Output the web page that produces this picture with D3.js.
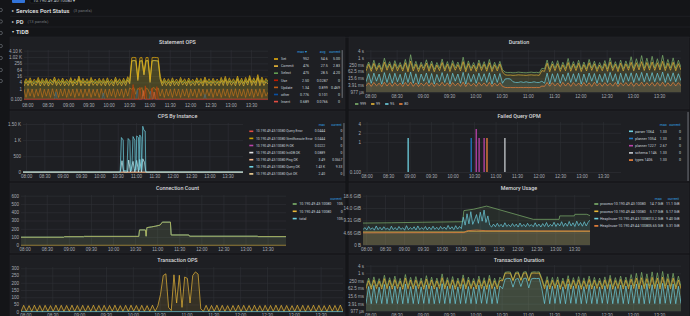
<!DOCTYPE html>
<html>
<head>
<meta charset="utf-8">
<script src="https://cdn.jsdelivr.net/npm/d3@7"></script>
<style>
  html, body { margin: 0; padding: 0; background: #141518; overflow: hidden; }
  svg { display: block; font-family: Roboto, "Noto Sans", sans-serif; }
  .grid line { stroke: #2f3135; stroke-width: 0.6; }
  .grid .domain { display: none; }
  .axis text { fill: #a9adb3; font-size: 4.5px; }
  .axis .domain { display: none; }
</style>
</head>
<body>
<script>
// ---------------- data ----------------
const domainStart = "07:55";
const domainEnd = "13:55";
const stepMinutes = 3; // dense series are sampled every 3 minutes from domainStart
const xTickLabels = ["08:00","08:30","09:00","09:30","10:00","10:30","11:00","11:30","12:00","12:30","13:00","13:30"];

const rowTitles = ["Services Port Status", "PD", "TiDB"];
const rowNotes = ["(3 panels)", "(13 panels)", ""];

// Statement OPS
const stmtTicks = [0.1, 1, 4, 16, 64, 256, 1024, 4096];
const stmtTickLabels = ["0.100", "1", "4", "16", "64", "256", "1.02 K", "4.10 K"];
const stmtNames = ["Set", "Commit", "Select", "Use", "Update", "other", "Insert"];
const stmtMax = ["952", "476", "475", "2.50", "1.34", "0.776", "0.689"];
const stmtAvg = ["54.6", "27.5", "28.5", "0.0287", "0.899", "0.101", "0.0766"];
const stmtCurrent = ["5.00", "2.83", "4.20", "0", "0.469", "0", "0"];
const stmtSet = [
  3.5, 9, 4, 11, 3.8, 8, 4.2, 12, 3.6, 9.5,
  4, 10, 3.5, 8.5, 4.4, 13, 3.9, 9, 4.1, 10.5,
  3.7, 8, 4, 11.5, 3.6, 9, 4.3, 16, 3.8, 10,
  4, 9, 3.5, 12, 4.2, 8.5, 3.9, 10, 4.1, 9.5,
  3.7, 11, 4, 8, 3.6, 12.5, 4.2, 9, 3.8, 10,
  4, 14, 6, 880, 952, 900, 12, 860, 930, 40,
  910, 940, 8, 900, 950, 920, 880, 15, 3.7, 10,
  4.1, 9, 3.6, 11, 4, 8.5, 3.8, 12, 4.3, 9,
  3.7, 10.5, 4, 8, 3.9, 11, 4.2, 9.5, 3.6, 13,
  4, 9, 3.8, 10, 4.1, 8.5, 3.7, 12, 4, 15,
  3.9, 11, 4.2, 9, 3.8, 16, 4, 10, 3.6, 12,
  4.3, 18, 3.9, 11, 4.1, 22, 3.8, 13, 4, 9.5,
  5
];
const stmtCommit = [
  1.8, 4.5, 2, 5.5, 1.9, 4, 2.1, 6, 1.8, 4.8,
  2, 5, 1.8, 4.3, 2.2, 6.5, 2, 4.5, 2, 5.2,
  1.9, 4, 2, 5.8, 1.8, 4.5, 2.2, 8, 1.9, 5,
  2, 4.5, 1.8, 6, 2.1, 4.3, 2, 5, 2, 4.8,
  1.9, 5.5, 2, 4, 1.8, 6.3, 2.1, 4.5, 1.9, 5,
  2, 7, 3, 440, 476, 450, 6, 430, 465, 20,
  455, 470, 4, 450, 475, 460, 440, 7.5, 1.9, 5,
  2, 4.5, 1.8, 5.5, 2, 4.3, 1.9, 6, 2.2, 4.5,
  1.9, 5.3, 2, 4, 2, 5.5, 2.1, 4.8, 1.8, 6.5,
  2, 4.5, 1.9, 5, 2, 4.3, 1.9, 6, 2, 7.5,
  2, 5.5, 2.1, 4.5, 1.9, 8, 2, 5, 1.8, 6,
  2.2, 9, 2, 5.5, 2, 11, 1.9, 6.5, 2, 4.8,
  2.83
];
const stmtSelect = [
  3, 6, 3.4, 7, 3.1, 5.5, 3.5, 8, 3, 6.5,
  3.3, 7, 3, 6, 3.6, 9, 3.2, 6, 3.4, 7.5,
  3.1, 5.5, 3.3, 8, 3, 6.5, 3.5, 11, 3.2, 7,
  3.4, 6, 3, 8.5, 3.5, 6, 3.2, 7, 3.4, 6.5,
  3.1, 7.5, 3.3, 5.5, 3, 9, 3.5, 6, 3.2, 7,
  3.3, 10, 4, 430, 475, 445, 8, 420, 460, 25,
  450, 468, 6, 440, 472, 455, 430, 9, 3.1, 7,
  3.4, 6, 3, 7.5, 3.3, 5.5, 3.2, 8, 3.5, 6,
  3.1, 7, 3.3, 5.5, 3.2, 7.5, 3.5, 6.5, 3, 9,
  3.3, 6, 3.2, 7, 3.4, 5.5, 3.1, 8, 3.3, 10,
  3.2, 7.5, 3.5, 6, 3.1, 11, 3.3, 7, 3, 8,
  3.5, 12, 3.2, 7.5, 3.4, 14, 3.1, 9, 3.3, 6.5,
  4.2
];
const stmtUpdate = [
  0.9, 0.15, 1, 0.2, 0.95, 0.15, 0.9, 0.2, 1.1, 0.15,
  0.9, 0.2, 0.95, 0.15, 1, 0.2, 0.9, 0.15, 0.95, 0.2,
  1, 0.15, 0.9, 0.2, 0.95, 0.15, 1, 0.2, 0.9, 0.15,
  0.95, 0.2, 1, 0.15, 0.9, 0.2, 0.95, 0.15, 1, 0.2,
  0.9, 0.15, 0.95, 0.2, 1, 0.15, 0.9, 0.2, 0.95, 0.15,
  1, 0.2, 1.2, 0.9, 1.34, 0.3, 1.1, 0.8, 1.3, 0.2,
  1.2, 0.9, 0.3, 1.1, 1.3, 0.7, 1.2, 0.2, 0.9, 0.15,
  0.95, 0.2, 0.9, 0.15, 1, 0.2, 0.95, 0.15, 0.9, 0.2,
  1, 0.15, 0.95, 0.2, 0.9, 0.15, 1, 0.2, 0.95, 0.15,
  0.9, 0.2, 1, 0.15, 0.95, 0.2, 0.9, 0.15, 1, 0.2,
  0.95, 0.15, 0.9, 0.2, 1, 0.15, 0.95, 0.2, 0.9, 0.15,
  1, 0.2, 0.95, 0.15, 0.9, 0.2, 1, 0.15, 0.95, 0.2,
  0.469
];
const stmtUse = [["07:55",0],["10:33",0],["10:36",2.5],["10:38",0],["10:44",0],["10:46",1.4],["10:48",0],["10:52",0],["10:54",1.9],["10:56",0],["11:02",0],["11:04",1.2],["11:06",0],["11:09",0],["11:11",1.6],["11:13",0],["13:55",0]];
const stmtOther = [["07:55",0],["08:40",0],["08:42",0.5],["08:44",0],["09:50",0],["09:52",0.4],["09:54",0],["10:40",0],["10:42",0.78],["10:44",0],["11:00",0],["11:02",0.6],["11:04",0],["12:20",0],["12:22",0.3],["12:24",0],["13:55",0]];
const stmtInsert = [["07:55",0],["10:49",0],["10:51",0.69],["10:53",0],["11:05",0],["11:07",0.5],["11:09",0],["13:55",0]];

// Duration (values in ms)
const durTicks = [0.9765625, 3.90625, 15.625, 62.5, 250, 1000, 4000];
const durTickLabels = ["977 µs", "3.91 ms", "15.6 ms", "62.5 ms", "250 ms", "1 s", "4 s"];
const durNames = ["999", "99", "95", "80"];
const dur999 = [
  120, 420, 100, 600, 110, 350, 95, 900, 130, 450,
  100, 550, 120, 380, 105, 700, 90, 1800, 115, 480,
  100, 400, 125, 650, 110, 500, 95, 380, 120, 750,
  105, 460, 100, 560, 130, 420, 110, 1100, 95, 520,
  115, 380, 100, 620, 120, 450, 105, 700, 98, 400,
  110, 480, 90, 55, 50, 52, 48, 50, 55, 52,
  50, 48, 52, 55, 50, 53, 48, 120, 105, 620,
  95, 480, 120, 550, 100, 400, 115, 850, 105, 460,
  120, 600, 98, 420, 110, 700, 125, 500, 100, 380,
  115, 560, 105, 950, 120, 450, 98, 620, 110, 520,
  130, 1200, 115, 800, 140, 1500, 120, 900, 135, 1300,
  125, 800, 140, 1600, 120, 700, 130, 950, 115, 600,
  140
];
const dur99 = [
  70, 260, 65, 320, 75, 220, 60, 400, 80, 280,
  65, 300, 72, 240, 68, 360, 60, 500, 70, 270,
  62, 250, 78, 340, 66, 290, 60, 230, 74, 380,
  68, 270, 62, 310, 80, 250, 70, 450, 60, 300,
  72, 230, 64, 330, 76, 270, 66, 360, 62, 240,
  70, 280, 58, 32, 30, 31, 29, 30, 32, 31,
  30, 29, 31, 32, 30, 31, 29, 75, 65, 330,
  60, 280, 74, 300, 64, 240, 72, 380, 66, 270,
  75, 320, 62, 250, 70, 360, 78, 290, 64, 230,
  72, 300, 66, 420, 74, 270, 62, 330, 70, 290,
  80, 400, 72, 360, 85, 450, 76, 380, 82, 420,
  78, 360, 84, 480, 75, 330, 80, 400, 72, 300,
  85
];
const dur95 = [
  8, 40, 6, 45, 9, 38, 5, 50, 7, 42,
  6, 44, 8, 36, 5, 48, 7, 55, 6, 40,
  5, 38, 9, 46, 6, 42, 5, 35, 8, 50,
  7, 40, 5, 44, 9, 38, 6, 52, 5, 42,
  8, 36, 6, 45, 9, 40, 7, 48, 5, 38,
  7, 42, 6, 14, 15, 14, 8, 7, 7, 8,
  7, 8, 7, 7, 8, 7, 7, 9, 6, 45,
  5, 40, 8, 42, 6, 36, 9, 48, 7, 40,
  8, 44, 5, 38, 7, 46, 9, 42, 6, 36,
  8, 42, 7, 52, 9, 40, 5, 45, 7, 42,
  9, 48, 7, 44, 10, 52, 8, 46, 9, 50,
  8, 45, 10, 55, 7, 42, 9, 48, 8, 40,
  10
];
const dur80 = [
  3.5, 6.5, 3.2, 7, 3.6, 6, 3.1, 7.2, 3.4, 6.6,
  3.2, 6.8, 3.5, 6.2, 3.1, 7, 3.4, 7.5, 3.2, 6.4,
  3.1, 6.2, 3.6, 7, 3.3, 6.6, 3.1, 6, 3.5, 7.2,
  3.4, 6.5, 3.1, 6.8, 3.6, 6.2, 3.2, 7.4, 3.1, 6.6,
  3.5, 6, 3.2, 7, 3.6, 6.4, 3.3, 7.1, 3.1, 6.2,
  3.4, 6.6, 3.2, 2.6, 2.5, 2.6, 2.5, 2.6, 2.5, 2.6,
  2.5, 2.6, 2.5, 2.6, 2.5, 2.6, 2.5, 3.4, 3.2, 7,
  3.3, 6.7, 3.5, 6.3, 3.1, 7.1, 3.4, 6.5, 3.2, 6.9,
  3.6, 6.2, 3.2, 7, 3.4, 6.6, 3.1, 7.3, 3.5, 6.4,
  3.2, 6.8, 3.5, 6.1, 3.3, 7, 3.1, 6.6, 3.6, 6.9,
  3.4, 7.2, 3.2, 6.4, 3.5, 7.4, 3.3, 6.7, 3.6, 7,
  3.3, 6.9, 3.5, 7.3, 3.2, 6.6, 3.4, 7.1, 3.5, 6.8,
  3.6
];

// CPS By Instance
const cpsTicks = [0, 500, 1000, 1500];
const cpsTickLabels = ["0", "500", "1 K", "1.50 K"];
const cpsNames = ["10.190.49.43:10080 Query Error", "10.190.49.43:10080 StmtExecute Error", "10.190.49.43:10080 Fi OK",
  "10.190.49.43:10080 InitDB OK", "10.190.49.43:10080 Ping OK", "10.190.49.43:10080 Query OK", "10.190.49.43:10080 Quit OK",
  "10.190.49.43:10080 StmtExecute OK"];
const cpsMax = ["0.0444", "0.0444", "0.0222", "0.0889", "3.49", "1.43 K", "2.40", "420"];
const cpsCurrent = ["0", "0", "0", "0", "0.0667", "9.33", "0", "4"];
const cpsQueryOk = [["07:55",8],["10:34",8],["10:36",1080],["10:39",1000],["10:40",60],["10:45",40],["10:47",1050],["10:50",980],["10:51",50],["10:53",60],["10:55",1110],["10:58",1000],["10:59",60],["11:00",80],["11:01",1130],["11:04",1080],["11:05",70],["11:06",1160],["11:08",1100],["11:09",80],["11:11",1430],["11:13",1300],["11:15",1280],["11:16",20],["11:18",8],["13:55",9.33]];
const cpsStmtExecOk = [["07:55",4],["10:34",4],["10:37",360],["10:39",100],["10:40",10],["10:46",8],["10:48",380],["10:50",120],["10:51",10],["10:55",340],["10:57",120],["10:58",10],["11:01",370],["11:03",150],["11:04",10],["11:06",400],["11:08",130],["11:09",10],["11:11",420],["11:14",300],["11:16",10],["11:18",4],["13:55",4]];
const cpsPingOk = [["07:55",3],["13:55",3]];
const cpsQuitOk = [["07:55",2],["13:55",2]];
const cpsIdle = [["07:55",0],["13:55",0]];

// Failed Query OPM
const failTicks = [0.1, 1, 2, 4];
const failTickLabels = ["0.100", "1", "2", "4"];
const failNames = ["parser 1064", "planner 1054", "planner 1227", "schema 1146", "types 1406"];
const failMax = ["1.33", "1.33", "2.67", "1.33", "1.33"];
const failCurrent = ["0", "0", "0", "0", "0"];
const failEvents = [
  [["08:58", 1.33]],
  [["10:26", 1.33]],
  [["10:33", 2.67], ["10:37", 1.33], ["10:44", 1.33]],
  [["11:13", 1.33]],
  [["10:48", 1.33]]
];

// Connection Count
const connTicks = [0, 100, 200, 300, 400, 500, 600];
const connNames = ["10.190.49.43:10080", "10.190.49.44:10080", "total"];
const connCurrent = ["105", "0", "105"];
const connTotal = [["07:55",98],["08:53",98],["08:54",104],["09:20",104],["09:21",108],["10:35",108],["10:36",186],["10:44",186],["10:45",110],["10:46",214],["10:52",222],["10:58",232],["11:04",245],["11:07",280],["11:18",280],["11:19",125],["11:43",125],["11:44",110],["13:16",110],["13:17",105],["13:55",105]];
const connNode44 = [["07:55",0],["13:55",0]];

// Memory Usage (GiB)
const memTicks = [0, 4.657, 9.313, 13.97, 18.63];
const memTickLabels = ["0 B", "4.66 GiB", "9.31 GiB", "14.0 GiB", "18.6 GiB"];
const memNames = ["process-10.190.49.43:10080", "process-10.190.49.44:10080", "HeapInuse-10.190.49.43:10080", "HeapInuse-10.190.49.44:10080"];
const memMax = ["14.7 GiB", "5.17 GiB", "13.2 GiB", "5.65 GiB"];
const memCurrent = ["11.1 GiB", "5.17 GiB", "9.40 GiB", "5.31 GiB"];
const memProcess43 = [["07:55",8.3],["08:40",8.4],["09:30",8.6],["10:33",8.8],["10:35",13.0],["10:50",13.5],["11:11",14.7],["12:25",9.7],["13:06",9.7],["13:07",11.0],["13:30",11.0],["13:31",11.6],["13:50",11.6],["13:55",11.1]];
const memProcess44 = [["07:55",4.95],["10:38",4.95],["10:42",5.17],["13:55",5.17]];
const memHeap44 = [["07:55",4.6],["10:35",4.7],["10:40",5.4],["10:55",5.65],["11:10",5.4],["13:55",5.31]];
const memHeap43 = [
  5.8, 6.6, 5.7, 7, 5.9, 6.5, 5.6, 7.2, 5.8, 6.7,
  5.7, 6.9, 5.9, 6.4, 5.6, 7.1, 5.8, 6.6, 5.7, 7,
  5.9, 6.5, 5.6, 7.3, 5.8, 6.6, 5.9, 6.9, 5.7, 7.2,
  5.8, 6.6, 5.9, 7, 5.7, 6.8, 5.8, 7.1, 5.9, 6.7,
  5.8, 7, 6, 6.8, 5.9, 7.4, 6, 6.9, 5.8, 7.3,
  6, 7, 6.2, 10.5, 7.5, 11.8, 8, 12.6, 7.8, 9.5,
  11.5, 8.2, 12.4, 9, 13.2, 8.5, 11, 7.5, 6.8, 7.9,
  6.9, 8.2, 7, 7.8, 6.8, 8.4, 7, 7.7, 6.9, 8.1,
  7, 7.9, 6.8, 8.3, 7, 7.8, 6.9, 8.2, 7.1, 7.7,
  6.9, 8.4, 7, 7.9, 6.8, 8.1, 7, 8.5, 6.9, 7.8,
  7.1, 8.6, 7, 8.2, 7.2, 8.8, 7, 8.3, 7.1, 8.9,
  7.2, 8.4, 7, 9, 7.3, 8.5, 7.1, 8.8, 7.2, 8.6,
  9.4
];

// Transaction OPS
const txnTicks = [0, 50, 100, 150, 200, 250, 300];
const txnCommit = [
  2, 44, 3, 42, 2, 45, 3, 43, 2, 44,
  3, 42, 2, 45, 3, 44, 2, 43, 3, 45,
  2, 43, 3, 44, 2, 42, 3, 45, 2, 43,
  3, 44, 2, 43, 3, 45, 2, 42, 3, 44,
  2, 45, 3, 43, 2, 44, 3, 42, 2, 45,
  3, 40, 120, 250, 262, 30, 8, 255, 60, 252,
  30, 240, 230, 60, 250, 275, 260, 20, 3, 44,
  2, 43, 3, 45, 2, 44, 3, 42, 2, 43,
  3, 45, 2, 44, 3, 43, 2, 45, 3, 42,
  2, 44, 3, 43, 2, 45, 3, 44, 2, 43,
  3, 42, 2, 45, 3, 44, 2, 43, 3, 45,
  2, 44, 3, 42, 2, 45, 3, 43, 2, 46,
  3
];
const txnRollback = [["07:55",0.5],["13:55",0.5]];

// Transaction Duration (ms)
const tdur999 = [
  90, 420, 80, 520, 95, 380, 85, 700, 90, 450,
  85, 600, 95, 400, 80, 800, 90, 480, 85, 550,
  95, 420, 80, 650, 90, 500, 85, 420, 95, 900,
  85, 460, 90, 550, 80, 420, 95, 750, 85, 500,
  90, 400, 85, 600, 95, 450, 80, 700, 90, 420,
  85, 500, 260, 1200, 1300, 1250, 280, 1200, 1300, 300,
  1250, 1350, 270, 1200, 1300, 1250, 1300, 400, 90, 550,
  85, 480, 95, 520, 80, 420, 90, 650, 85, 460,
  95, 550, 80, 440, 90, 600, 85, 480, 95, 420,
  85, 520, 90, 700, 80, 460, 95, 600, 85, 500,
  90, 800, 95, 1000, 85, 1200, 90, 900, 95, 1300,
  90, 1100, 85, 1400, 95, 900, 90, 1000, 85, 600,
  90
];
const tdur99 = [
  60, 260, 55, 300, 62, 240, 58, 380, 60, 280,
  56, 320, 62, 250, 55, 420, 60, 290, 58, 300,
  62, 260, 55, 350, 60, 300, 57, 260, 62, 450,
  58, 280, 60, 310, 55, 260, 62, 400, 58, 290,
  60, 250, 57, 330, 62, 270, 55, 380, 60, 260,
  58, 280, 250, 1000, 1050, 1000, 260, 980, 1050, 270,
  1000, 1080, 250, 1000, 1050, 1000, 1050, 300, 60, 300,
  57, 280, 62, 300, 55, 250, 60, 350, 58, 280,
  62, 310, 55, 260, 60, 330, 57, 280, 62, 250,
  58, 300, 60, 380, 55, 270, 62, 330, 58, 290,
  60, 350, 62, 420, 58, 450, 60, 380, 62, 480,
  60, 420, 58, 500, 62, 380, 60, 420, 58, 300,
  60
];
const tdur95 = [
  4, 90, 3.9, 110, 4.2, 80, 4, 130, 3.9, 95,
  4.1, 100, 4, 85, 3.9, 140, 4.2, 90, 4, 105,
  3.9, 85, 4.1, 120, 4, 100, 3.9, 80, 4.2, 150,
  4, 95, 4.1, 110, 3.9, 85, 4, 130, 4.1, 90,
  4, 80, 3.9, 115, 4.2, 95, 4, 125, 3.9, 85,
  4.1, 100, 60, 350, 400, 380, 80, 340, 390, 90,
  380, 420, 70, 360, 400, 380, 400, 60, 4, 110,
  3.9, 95, 4.1, 120, 4, 85, 3.9, 140, 4.2, 100,
  4, 110, 3.9, 90, 4.1, 125, 4, 95, 3.9, 85,
  4.2, 105, 4, 130, 3.9, 90, 4.1, 115, 4, 100,
  3.9, 120, 4.2, 140, 4, 110, 3.9, 150, 4.1, 125,
  4, 135, 3.9, 160, 4.2, 115, 4, 140, 3.9, 95,
  4
];

// Grafana classic palette picks
const green = "#7EB26D", yellow = "#EAB839", cyan = "#6ED0E0", orange = "#EF843C",
      red = "#E24D42", blue = "#1F78C1", purple = "#BA43A9";
const panelBg = "#1e1f23";
const textColor = "#c7d0d9";
const headerBlue = "#33a2e5";
const legendFont = 3.6;

// ---------------- main process ----------------
let svg = null;
const parseTime = d3.timeParse("%H:%M");
const fmtTime = d3.timeFormat("%H:%M");
const xTicks = xTickLabels.map(parseTime);

setupSvg();
drawChrome();
drawStatementOps();
drawDuration();
drawCpsByInstance();
drawFailedQuery();
drawConnectionCount();
drawMemoryUsage();
drawTransactionOps();
drawTransactionDuration();

function setupSvg() {
    svg = d3.select("body").append("svg").attr("width", 690).attr("height", 316);
    svg.append("rect").attr("width", 690).attr("height", 316).attr("fill", "#141518");
}

// dense series: one value every stepMinutes from domainStart
function dense(values) {
    const t0 = parseTime(domainStart).getTime();
    return values.map((v, i) => ({t: new Date(t0 + i * stepMinutes * 60000), v: v}));
}

function pairs(list) {
    return list.map(d => ({t: parseTime(d[0]), v: d[1]}));
}

// toolbar remnants, sidebar and collapsed rows
function drawChrome() {
    svg.append("rect").attr("x", 12).attr("y", -4).attr("width", 13).attr("height", 7)
        .attr("rx", 1).attr("fill", "#3274d9");
    svg.append("rect").attr("x", 30).attr("y", -4).attr("width", 39).attr("height", 7)
        .attr("rx", 1).attr("fill", "#0b0c0e").attr("stroke", "#2c3235").attr("stroke-width", 0.5);
    svg.append("text").attr("x", 33).attr("y", 1.6).attr("font-size", 4.4).attr("fill", textColor)
        .text("10.190.49.40:10080 ▾");

    [10, 21.5, 33, 46, 58, 70, 81].forEach(y => {
        svg.append("circle").attr("cx", 0.8).attr("cy", y).attr("r", 1.6)
            .attr("fill", "none").attr("stroke", "#7b8087").attr("stroke-width", 0.6);
    });

    const rowY = [11, 21.7, 32];
    rowTitles.forEach((t, i) => {
        const y = rowY[i];
        svg.append("line").attr("x1", 10).attr("x2", 690).attr("y1", y + 5.3).attr("y2", y + 5.3)
            .attr("stroke", "#202226").attr("stroke-width", 0.8);
        svg.append("text").attr("x", 12).attr("y", y).attr("dy", "0.35em").attr("font-size", 4)
            .attr("fill", "#d8d9da").text(i === 2 ? "▾" : "▸");
        const title = svg.append("text").attr("x", 16).attr("y", y).attr("dy", "0.35em")
            .attr("font-size", 5.8).attr("font-weight", 700).attr("fill", "#d8d9da").text(t);
        const w = title.node().getComputedTextLength();
        svg.append("text").attr("x", 16 + w + 4).attr("y", y).attr("dy", "0.35em")
            .attr("font-size", 4.2).attr("fill", "#6e7379").text(rowNotes[i]);
    });
}

function appendPanel(x, y, w, h, title) {
    svg.append("rect").attr("x", x).attr("y", y).attr("width", w).attr("height", h)
        .attr("fill", panelBg).attr("stroke", "#25262a").attr("stroke-width", 0.5);
    svg.append("text").attr("x", x + w / 2).attr("y", y + 5).attr("dy", "0.35em")
        .attr("text-anchor", "middle").attr("font-size", 5.4).attr("font-weight", 500)
        .attr("fill", "#d8d9da").text(title);
}

// grid, y labels and time labels for one graph area
function appendGraph(o) {
    const x = d3.scaleTime().domain([parseTime(domainStart), parseTime(domainEnd)]).range([o.left, o.right]);
    const g = svg.append("g");
    const clipId = "clip" + Math.round(o.left) + "_" + Math.round(o.top);
    svg.append("clipPath").attr("id", clipId).append("rect")
        .attr("x", o.left).attr("y", o.top - 1).attr("width", o.right - o.left).attr("height", o.bottom - o.top + 1.5);

    g.append("g").attr("class", "grid").attr("transform", `translate(${o.left},0)`)
        .call(d3.axisLeft(o.y).tickValues(o.yTicks).tickSize(-(o.right - o.left)).tickFormat(""));
    g.append("g").attr("class", "grid").attr("transform", `translate(0,${o.bottom})`)
        .call(d3.axisBottom(x).tickValues(xTicks).tickSize(-(o.bottom - o.top)).tickFormat(""));

    g.append("g").attr("class", "axis").attr("transform", `translate(${o.left - 2},0)`)
        .call(d3.axisLeft(o.y).tickValues(o.yTicks).tickSize(0).tickPadding(0)
            .tickFormat((d, i) => o.yLabels[i]));
    g.append("g").attr("class", "axis").attr("transform", `translate(0,${o.labelY})`)
        .call(d3.axisBottom(x).tickValues(xTicks).tickSize(0).tickPadding(0).tickFormat(fmtTime))
        .selectAll("text").attr("dy", "0.35em");

    const plot = svg.append("g").attr("clip-path", `url(#${clipId})`);
    const floor = o.y.domain()[0];
    return {x: x, y: v => o.y(Math.max(v, floor)), plot: plot, bottom: o.bottom};
}

function appendSeries(gr, data, color, fillOpacity, width) {
    if (fillOpacity) {
        gr.plot.append("path").datum(data)
            .attr("d", d3.area().x(d => gr.x(d.t)).y0(gr.bottom).y1(d => gr.y(d.v)))
            .attr("fill", color).attr("fill-opacity", fillOpacity);
    }
    gr.plot.append("path").datum(data)
        .attr("d", d3.line().x(d => gr.x(d.t)).y(d => gr.y(d.v)))
        .attr("fill", "none").attr("stroke", color).attr("stroke-width", width || 0.7)
        .attr("stroke-linejoin", "round");
}

// table legend on the right side of a panel
function appendTableLegend(o) {
    const g = svg.append("g");
    const fs = o.fontSize || legendFont;
    if (o.clip) {
        const id = "legclip" + Math.round(o.dashX);
        svg.append("clipPath").attr("id", id).append("rect")
            .attr("x", o.clip[0]).attr("y", o.clip[1]).attr("width", o.clip[2]).attr("height", o.clip[3]);
        g.attr("clip-path", `url(#${id})`);
    }
    o.headers.forEach((h, i) => {
        g.append("text").attr("x", o.headX[i]).attr("y", o.headY).attr("dy", "0.35em")
            .attr("text-anchor", "end").attr("font-size", fs).attr("fill", headerBlue).text(h);
    });
    o.names.forEach((n, r) => {
        const y = o.rowY + r * o.rowStep;
        g.append("rect").attr("x", o.dashX).attr("y", y - 0.8).attr("width", 4).attr("height", 1.6)
            .attr("fill", o.colors[r]);
        g.append("text").attr("x", o.nameX).attr("y", y).attr("dy", "0.35em")
            .attr("font-size", fs).attr("fill", textColor).text(n);
        o.cols.forEach((col, c) => {
            g.append("text").attr("x", o.colX[c]).attr("y", y).attr("dy", "0.35em")
                .attr("text-anchor", "end").attr("font-size", fs).attr("fill", textColor).text(col[r]);
        });
    });
}

function appendScrollbar(x, y1, y2) {
    svg.append("rect").attr("x", x).attr("y", y1).attr("width", 1.3).attr("height", y2 - y1)
        .attr("rx", 0.6).attr("fill", "#5d6066");
}

function drawStatementOps() {
    appendPanel(10, 37, 335, 72, "Statement OPS");
    const y = d3.scaleLog().domain([0.1, 4096]).range([99.3, 50.7]);
    const gr = appendGraph({left: 24, right: 268, top: 50, bottom: 99.3, y: y,
        yTicks: stmtTicks, yLabels: stmtTickLabels, labelY: 105});
    const colors = ["#E5AC0E", yellow, "#629E51", "#BF1B00", "#C15C17", "#0A50A1", red];
    appendSeries(gr, dense(stmtUpdate), colors[4], 0.1);
    appendSeries(gr, pairs(stmtOther), colors[5], 0.12);
    appendSeries(gr, pairs(stmtInsert), colors[6], 0.12);
    appendSeries(gr, pairs(stmtUse), colors[3], 0.12);
    appendSeries(gr, dense(stmtSelect), colors[2], 0.1);
    appendSeries(gr, dense(stmtCommit), colors[1], 0.1);
    appendSeries(gr, dense(stmtSet), colors[0], 0.1);
    appendTableLegend({names: stmtNames, colors: colors, cols: [stmtMax, stmtAvg, stmtCurrent],
        colX: [309, 327.7, 340], headers: ["max ▾", "avg", "current"], headX: [307, 325.5, 340.5],
        headY: 51.7, dashX: 274, nameX: 281, rowY: 59, rowStep: 7.1});
    appendScrollbar(341.6, 50, 98);
}

function drawDuration() {
    appendPanel(349, 37, 340, 72, "Duration");
    const y = d3.scaleLog().domain([0.9765625, 4000]).range([92.3, 50.7]);
    const gr = appendGraph({left: 366, right: 681, top: 50, bottom: 92.3, y: y,
        yTicks: durTicks, yLabels: durTickLabels, labelY: 96.8});
    const colors = [green, yellow, cyan, orange];
    [dur999, dur99, dur95, dur80].forEach((s, i) => appendSeries(gr, dense(s), colors[i], 0.1));
    // horizontal legend under the graph
    let lx = 355;
    durNames.forEach((n, i) => {
        svg.append("rect").attr("x", lx).attr("y", 103.2).attr("width", 3.4).attr("height", 1.6).attr("fill", colors[i]);
        const t = svg.append("text").attr("x", lx + 5).attr("y", 104).attr("dy", "0.35em")
            .attr("font-size", legendFont).attr("fill", textColor).text(n);
        lx += 5 + t.node().getComputedTextLength() + 5;
    });
}

function drawCpsByInstance() {
    appendPanel(10, 111, 335, 70, "CPS By Instance");
    const y = d3.scaleLinear().domain([0, 1500]).range([172.3, 124]);
    const gr = appendGraph({left: 23, right: 243, top: 123, bottom: 172.3, y: y,
        yTicks: cpsTicks, yLabels: cpsTickLabels, labelY: 176.4});
    const colors = [red, "#CCA300", purple, "#E5E5E5", "#F9BA8F", cyan, "#F4D598", "#CFFAFF"];
    appendSeries(gr, pairs(cpsIdle), colors[0], 0);
    appendSeries(gr, pairs(cpsPingOk), colors[4], 0);
    appendSeries(gr, pairs(cpsQuitOk), colors[6], 0);
    appendSeries(gr, pairs(cpsStmtExecOk), colors[7], 0.1);
    appendSeries(gr, pairs(cpsQueryOk), colors[5], 0.1);
    appendTableLegend({names: cpsNames, colors: colors, cols: [cpsMax, cpsCurrent],
        colX: [325, 342.3], headers: ["max", "current"], headX: [325, 341.7],
        headY: 125, dashX: 249.3, nameX: 256, rowY: 131.3, rowStep: 7.1,
        clip: [245, 121, 100, 56.5], fontSize: 3.3});
    appendScrollbar(343.3, 123, 176);
}

function drawFailedQuery() {
    appendPanel(349, 111, 340, 70, "Failed Query OPM");
    const y = d3.scaleLog().domain([0.1, 4]).range([172, 123.7]);
    const gr = appendGraph({left: 363, right: 621, top: 122, bottom: 172, y: y,
        yTicks: failTicks, yLabels: failTickLabels, labelY: 176.4});
    const colors = [cyan, blue, purple, "#c9ccd1", orange];
    failEvents.forEach((events, s) => {
        pairs(events).forEach(d => {
            gr.plot.append("line").attr("x1", gr.x(d.t)).attr("x2", gr.x(d.t))
                .attr("y1", gr.bottom).attr("y2", gr.y(d.v))
                .attr("stroke", colors[s]).attr("stroke-width", 1.3);
        });
    });
    appendTableLegend({names: failNames, colors: colors, cols: [failMax, failCurrent],
        colX: [666.7, 681], headers: ["max", "current"], headX: [666.7, 680.5],
        headY: 125, dashX: 629, nameX: 635, rowY: 131.3, rowStep: 7.2});
    appendScrollbar(687.4, 112, 181);
}

function drawConnectionCount() {
    appendPanel(10, 183, 335, 70, "Connection Count");
    const y = d3.scaleLinear().domain([0, 600]).range([245.3, 195.7]);
    const gr = appendGraph({left: 21, right: 286, top: 195, bottom: 245.3, y: y,
        yTicks: connTicks, yLabels: connTicks.map(String), labelY: 249.8});
    const colors = [green, yellow, cyan];
    appendSeries(gr, pairs(connNode44), colors[1], 0);
    appendSeries(gr, pairs(connTotal), colors[2], 0.06);
    appendSeries(gr, pairs(connTotal), "#b9b14a", 0.1, 0.8);
    appendTableLegend({names: connNames, colors: colors, cols: [connCurrent],
        colX: [342.7], headers: ["current"], headX: [341.7],
        headY: 198.3, dashX: 292.7, nameX: 299.3, rowY: 204, rowStep: 7.3});
}

function drawMemoryUsage() {
    appendPanel(349, 183, 340, 70, "Memory Usage");
    const y = d3.scaleLinear().domain([0, 18.63]).range([245, 195.7]);
    const gr = appendGraph({left: 363, right: 590, top: 195, bottom: 245, y: y,
        yTicks: memTicks, yLabels: memTickLabels, labelY: 249.8});
    const colors = [green, yellow, cyan, orange];
    appendSeries(gr, pairs(memProcess43), colors[0], 0.1);
    appendSeries(gr, pairs(memProcess44), colors[1], 0.1);
    appendSeries(gr, dense(memHeap43), colors[2], 0.1);
    appendSeries(gr, pairs(memHeap44), colors[3], 0.1);
    appendTableLegend({names: memNames, colors: colors, cols: [memMax, memCurrent],
        colX: [663.3, 679.5], headers: ["max", "current"], headX: [661.7, 679],
        headY: 198.3, dashX: 594.3, nameX: 600, rowY: 204, rowStep: 7.3});
}

function drawTransactionOps() {
    appendPanel(10, 255, 335, 70, "Transaction OPS");
    const y = d3.scaleLinear().domain([0, 300]).range([311.7, 268.3]);
    const gr = appendGraph({left: 21, right: 343, top: 267, bottom: 311.7, y: y,
        yTicks: txnTicks, yLabels: txnTicks.map(String), labelY: 315.6});
    appendSeries(gr, dense(txnCommit), yellow, 0.12);
    appendSeries(gr, pairs(txnRollback), cyan, 0);
}

function drawTransactionDuration() {
    appendPanel(349, 255, 340, 70, "Transaction Duration");
    const y = d3.scaleLog().domain([0.9765625, 4000]).range([311.3, 265.7]);
    const gr = appendGraph({left: 366, right: 681, top: 265, bottom: 311.3, y: y,
        yTicks: durTicks, yLabels: durTickLabels, labelY: 315.6});
    appendSeries(gr, dense(tdur999), green, 0.1);
    appendSeries(gr, dense(tdur99), yellow, 0.1);
    appendSeries(gr, dense(tdur95), cyan, 0.1);
}
</script>
</body>
</html>
